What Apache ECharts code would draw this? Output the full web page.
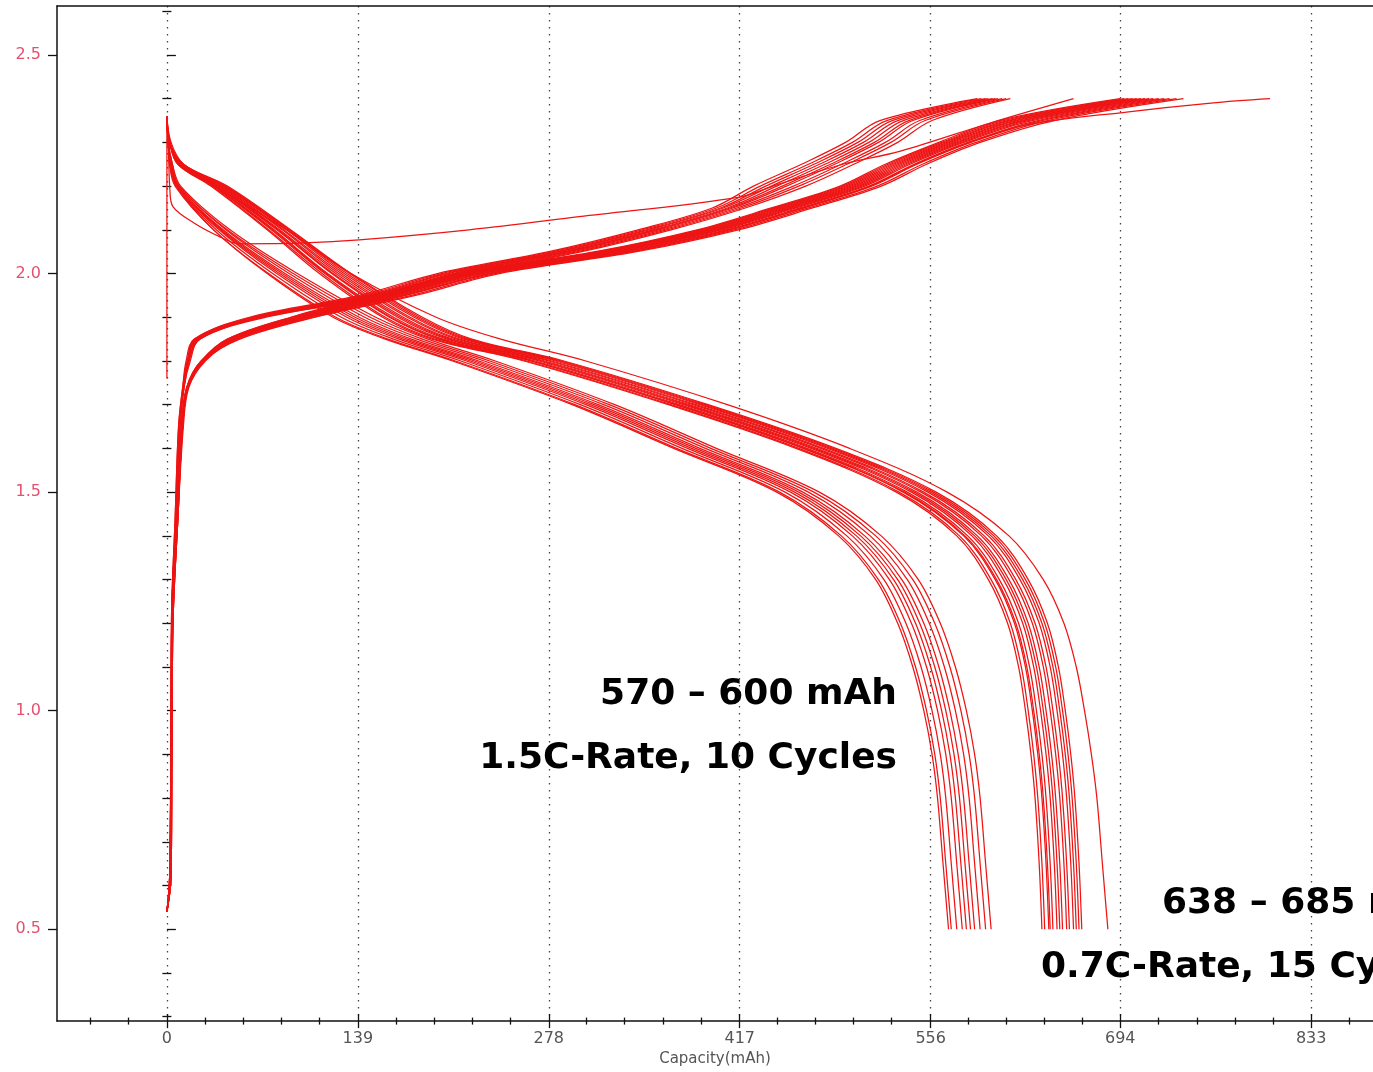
<!DOCTYPE html>
<html><head><meta charset="utf-8">
<script src="https://cdn.jsdelivr.net/npm/echarts@6/dist/echarts.min.js"></script>
<style>html,body{margin:0;padding:0;background:#fff}#c{width:1373px;height:1072px}</style>
</head><body><div id="c"></div>
<script>
// ---------- tick labels ----------
const xTickLabels = [0, 139, 278, 417, 556, 694, 833];
const yTickLabels = [0.5, 1.0, 1.5, 2.0, 2.5];
const xAxisName = 'Capacity(mAh)';
const annotationLines = ['570 – 600 mAh', '1.5C-Rate, 10 Cycles', '638 – 685 mAh', '0.7C-Rate, 15 Cycles'];

// ---------- discharge curves: capacity (mAh) reached at each voltage level ----------
const dischargeVolts = [2.36, 2.30, 2.25, 2.20, 2.10, 2.00, 1.90, 1.85, 1.80, 1.70, 1.60, 1.50, 1.40, 1.30, 1.20, 1.10, 1.00, 0.90, 0.80, 0.65, 0.50];
// 1.5C-rate, 10 cycles
const dischargeFast = [
  [0,1,2,6,34,73,121,159,208,295,369,444,489,516,532,543,551,557,561,565,569],
  [0,1,2,7,34,74,123,161,210,297,371,446,491,518,534,545,553,559,563,567,571],
  [0,1,3,7,36,77,127,165,214,301,375,450,495,522,538,549,557,563,567,571,575],
  [0,1,3,7,38,80,131,169,218,305,379,454,499,526,542,553,561,567,571,575,579],
  [0,1,3,8,39,82,134,172,221,308,382,457,502,529,545,556,564,570,574,578,582],
  [0,1,3,8,40,84,137,175,224,311,385,460,505,532,548,559,567,573,577,581,585],
  [0,1,3,8,41,86,140,178,227,314,388,463,508,535,551,562,570,576,580,584,588],
  [0,1,3,9,43,89,144,182,231,318,392,467,512,539,555,566,574,580,584,588,592],
  [0,1,4,9,44,92,148,186,235,322,396,471,516,543,559,570,578,584,588,592,596],
  [0,1,4,10,46,95,152,190,239,326,400,475,520,547,563,574,582,588,592,596,600]
];
// 0.7C-rate, 15 cycles
const dischargeSlow = [
  [0,2,8,32,73,111,157,193,260,365,458,531,575,598,612,620,625,629,632,635,637],
  [0,2,8,33,74,113,159,195,262,367,460,533,577,600,614,622,627,631,634,637,639],
  [0,2,9,34,76,115,162,198,265,370,463,536,580,603,617,625,630,634,637,640,642],
  [0,2,9,34,77,116,163,199,266,371,464,537,581,604,618,626,631,635,638,641,643],
  [0,2,9,35,78,117,165,201,268,373,466,539,583,606,620,628,633,637,640,643,645],
  [0,2,9,36,80,120,168,204,271,376,469,542,586,609,623,631,636,640,643,646,648],
  [0,2,10,37,81,121,170,206,273,378,471,544,588,611,625,633,638,642,645,648,650],
  [0,2,10,38,82,123,172,208,275,380,473,546,590,613,627,635,640,644,647,650,652],
  [0,2,10,39,84,125,175,211,278,383,476,549,593,616,630,638,643,647,650,653,655],
  [0,2,11,40,85,127,177,213,280,385,478,551,595,618,632,640,645,649,652,655,657],
  [0,2,11,41,87,129,180,216,283,388,481,554,598,621,635,643,648,652,655,658,660],
  [0,2,12,42,88,131,182,218,285,390,483,556,600,623,637,645,650,654,657,660,662],
  [0,2,12,43,89,133,184,220,287,392,485,558,602,625,639,647,652,656,659,662,664],
  [0,2,12,44,90,134,186,222,289,394,487,560,604,627,641,649,654,658,661,664,666],
  [0,3,12,35,87,134,196,243,305,408,497,568,613,638,653,662,668,673,677,681,685]
];

// ---------- charge curves: capacity (mAh) reached at each voltage level ----------
const chargeVolts = [0.54, 0.62, 1.00, 1.22, 1.44, 1.65, 1.74, 1.80, 1.85, 1.90, 1.95, 2.00, 2.05, 2.10, 2.15, 2.20, 2.25, 2.30, 2.35, 2.40];
const chargeFast = [
  [0,2.5,3.2,3.6,6.5,9,12,15,20,60,140,197,278,343,397,427,462,494,519,590],
  [0,2.0,3.0,3.4,6.0,8.5,11.5,14,20,62,143,200,281,346,400,432,467,499,524,593],
  [0,2.5,3.2,3.6,6.5,9,12,15,21,63,146,203,284,349,403,436,471,503,528,596],
  [0,3.0,3.5,4.0,7.0,9.5,12.5,16,21,64,148,205,286,351,405,440,475,507,532,598],
  [0,2.5,3.2,3.6,6.5,9,12,15,22,66,151,208,289,354,408,444,479,511,536,601],
  [0,2.0,3.0,3.4,6.0,8.5,11.5,15,22,67,153,210,291,356,410,448,483,515,540,603],
  [0,2.5,3.2,3.6,6.5,9,12,16,23,68,155,212,293,358,412,451,486,518,543,605],
  [0,3.0,3.5,4.0,7.0,9.5,12.5,16,23,69,158,215,296,361,415,456,491,523,548,608],
  [0,2.5,3.2,3.6,6.5,9,12,16,24,70,161,218,299,364,418,460,495,527,552,611],
  [0,2.5,3.4,3.8,6.8,9.5,12.5,17,24,72,164,221,302,367,421,465,500,532,557,614]
];
const chargeSlow = [
  [0,2.5,3.5,4.2,7.5,11,15,26,44,90,151,212,312,386,440,490,523,562,606,694],
  [0,2.0,3.2,4.0,7.0,10.5,14.5,25,44,91,153,214,314,388,442,492,525,564,609,697],
  [0,2.5,3.5,4.2,7.5,11,15,26,45,92,155,216,316,390,444,494,527,566,612,700],
  [0,3.0,3.8,4.6,8.0,11.5,15.5,27,45,94,157,218,318,392,446,496,529,568,614,703],
  [0,2.5,3.5,4.2,7.5,11,15,26,46,95,159,220,320,394,448,498,531,570,617,706],
  [0,2.0,3.2,4.0,7.0,10.5,14.5,25,47,96,161,222,322,396,450,500,533,572,619,709],
  [0,2.5,3.5,4.2,7.5,11,15,26,47,97,163,224,324,398,452,502,535,574,622,712],
  [0,3.0,3.8,4.6,8.0,11.5,15.5,27,48,98,165,226,326,400,454,504,537,576,624,715],
  [0,2.5,3.5,4.2,7.5,11,15,26,48,100,167,228,328,402,456,506,539,578,627,718],
  [0,2.0,3.2,4.0,7.0,10.5,14.5,25,49,101,169,230,330,404,458,508,541,580,630,722],
  [0,2.5,3.5,4.2,7.5,11,15,26,50,103,172,233,333,407,461,511,544,583,634,726],
  [0,3.0,3.8,4.6,8.0,11.5,15.5,27,50,104,174,235,335,409,463,513,546,585,637,730],
  [0,2.5,3.5,4.2,7.5,11,15,26,52,106,178,239,339,413,467,517,550,589,641,735],
  [0,2.5,3.6,4.4,7.8,11.5,15.5,27,53,108,181,242,342,416,470,520,553,592,646,740]
];
// individual traces [capacity, voltage]
const chargeFirst = [[0,1.76],[0,2.36],[1,2.30],[2.2,2.19],[4.4,2.153],[20,2.115],[38.6,2.084],[53,2.068],[100,2.07],[140,2.077],[220,2.10],[300,2.13],[417,2.175],[444,2.203],[492,2.25],[534,2.28],[600,2.345],[660,2.40]];
const chargeLong = [[0,0.54],[2.5,0.62],[3.5,1.0],[4.5,1.22],[8,1.44],[12,1.65],[16,1.74],[28,1.80],[50,1.85],[102,1.90],[172,1.95],[236,2.0],[336,2.05],[410,2.10],[464,2.15],[512,2.20],[545,2.25],[585,2.30],[626,2.34],[700,2.37],[760,2.39],[803,2.40]];

// ---------- build ----------
const LINE_COLOR = '#ee1414';
function curve(caps, volts) { return caps.map((c, i) => [c, volts[i]]); }
const series = [];
function addLine(data) {
  series.push({type: 'line', data, symbol: 'none', showSymbol: false, silent: true, animation: false,
    smooth: 0.35, lineStyle: {color: LINE_COLOR, width: 1.25}, emphasis: {disabled: true}});
}
dischargeFast.forEach(c => addLine(curve(c, dischargeVolts)));
dischargeSlow.forEach(c => addLine(curve(c, dischargeVolts)));
chargeFast.forEach(c => addLine(curve(c, chargeVolts)));
chargeSlow.forEach(c => addLine(curve(c, chargeVolts)));
addLine(chargeFirst);
addLine(chargeLong);

const XMIN = -80, XMAX = 878, YMIN = 0.29, YMAX = 2.612;
const xStep = 833 / 30;
const xMinor = [];
for (let k = -2; k <= 31; k++) if (k % 5 !== 0) xMinor.push(+(k * xStep).toFixed(2));
const yMinor = [];
for (let k = 3; k <= 26; k++) if (k % 5 !== 0) yMinor.push(+(k / 10).toFixed(1));

const axisColor = '#111';
function xAx(extra) {
  return Object.assign({type: 'value', min: XMIN, max: XMAX, position: 'bottom',
    axisLine: {show: false}, axisTick: {show: false}, axisLabel: {show: false}, splitLine: {show: false}}, extra);
}
function yAx(extra) {
  return Object.assign({type: 'value', min: YMIN, max: YMAX, position: 'left',
    axisLine: {show: false}, axisTick: {show: false}, axisLabel: {show: false}, splitLine: {show: false}}, extra);
}
const tickStyle = {color: axisColor, width: 1.3};

const option = {
  backgroundColor: '#fff',
  animation: false,
  grid: {left: 57, right: 0, top: 6, bottom: 49, containLabel: false},
  xAxis: [
    xAx({
      axisLine: {show: true, onZero: false, lineStyle: {color: axisColor, width: 1.5}},
      axisTick: {show: true, customValues: xTickLabels, length: 7, lineStyle: tickStyle},
      axisLabel: {show: true, customValues: xTickLabels, margin: 10, color: '#555', fontSize: 16, fontFamily: 'DejaVu Sans'},
      splitLine: {show: true, lineStyle: {color: '#444', width: 1.3, type: [1.5, 5.5]}},
      name: xAxisName, nameLocation: 'middle', nameGap: 30,
      nameTextStyle: {color: '#555', fontSize: 15, fontFamily: 'DejaVu Sans'}
    }),
    xAx({axisTick: {show: true, inside: true, customValues: xTickLabels, length: 7, lineStyle: tickStyle}}),
    xAx({axisTick: {show: true, customValues: xMinor, length: 3.5, lineStyle: tickStyle}}),
    xAx({axisTick: {show: true, inside: true, customValues: xMinor, length: 3.5, lineStyle: tickStyle}}),
    xAx({position: 'top', axisLine: {show: true, onZero: false, lineStyle: {color: axisColor, width: 1.5}}})
  ],
  yAxis: [
    yAx({
      axisLine: {show: true, onZero: false, lineStyle: {color: axisColor, width: 1.5}},
      axisTick: {show: true, customValues: yTickLabels, length: 9, lineStyle: tickStyle},
      axisLabel: {show: true, customValues: yTickLabels, margin: 16, color: '#e5506e', fontSize: 16, fontFamily: 'DejaVu Sans',
        formatter: v => Number(v).toFixed(1)}
    }),
    yAx({axisTick: {show: true, inside: true, customValues: yTickLabels, length: 9, lineStyle: tickStyle}}),
    yAx({axisTick: {show: true, customValues: yMinor, length: 4.5, lineStyle: tickStyle}}),
    yAx({axisTick: {show: true, inside: true, customValues: yMinor, length: 4.5, lineStyle: tickStyle}})
  ],
  series: series,
  graphic: [
    {type: 'text', x: 897, y: 695, z: 100, style: {text: annotationLines[0], font: 'bold 36px "DejaVu Sans"', fill: '#000', align: 'right', verticalAlign: 'middle'}},
    {type: 'text', x: 897, y: 759, z: 100, style: {text: annotationLines[1], font: 'bold 36px "DejaVu Sans"', fill: '#000', align: 'right', verticalAlign: 'middle'}},
    {type: 'text', x: 1162, y: 904, z: 100, style: {text: annotationLines[2], font: 'bold 36px "DejaVu Sans"', fill: '#000', align: 'left', verticalAlign: 'middle'}},
    {type: 'text', x: 1041, y: 968, z: 100, style: {text: annotationLines[3], font: 'bold 36px "DejaVu Sans"', fill: '#000', align: 'left', verticalAlign: 'middle'}}
  ]
};
const chart = echarts.init(document.getElementById('c'), null, {renderer: 'canvas'});
chart.setOption(option);
</script>
</body></html>
